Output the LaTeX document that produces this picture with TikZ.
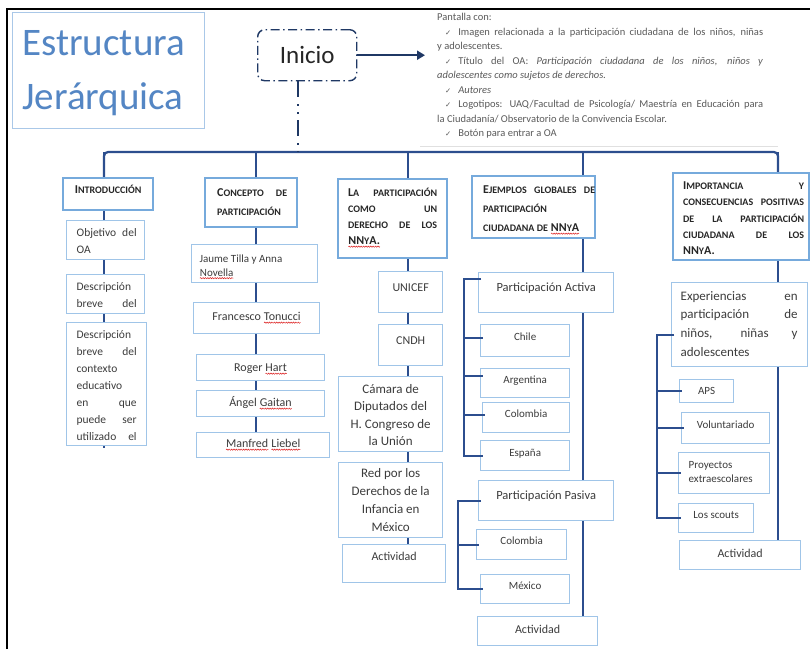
\documentclass[tikz,border=0pt]{standalone}
\usepackage{fontspec}
\setmainfont{Carlito}
\newfontfamily\symfont{DejaVu Sans}
\usetikzlibrary{arrows.meta,backgrounds,decorations.pathmorphing}

\definecolor{navy}{RGB}{44,78,142}
\definecolor{navydark}{RGB}{31,56,100}
\definecolor{hdrline}{RGB}{118,170,220}
\definecolor{boxline}{RGB}{160,197,232}
\definecolor{titleblue}{RGB}{84,134,196}
\definecolor{titlebox}{RGB}{170,200,232}
\definecolor{hdrtext}{RGB}{38,38,38}
\definecolor{bodytext}{RGB}{60,60,60}
\definecolor{notetext}{RGB}{90,90,90}
\definecolor{spellred}{RGB}{220,30,30}

% box: name, style, x1, y1, x2, y2, first baseline, alignment, text
\newcommand\bx[9]{%
  \node[#2, anchor=north west, inner sep=0pt] (#1) at (#3,#4)
    {\parbox[c][\dimexpr #6pt-#4pt\relax][t]{\dimexpr #5pt-#3pt\relax}{#8\rule{0pt}{#7pt}#9}};}
\newcommand\lft[3]{\leftskip=#1pt\rightskip=#2pt plus 1fil\baselineskip=#3pt\relax}
\newcommand\ctr[1]{\centering\baselineskip=#1pt\relax}
\newcommand\jl[1]{\makebox[\dimexpr\hsize-\leftskip-\rightskip\relax][s]{#1}}
\newcommand\hs[1]{{\fontsize{10}{10}\selectfont #1}}
\newcommand\ck{{\symfont\fontsize{7.3}{7.3}\selectfont ✓}}
\newcommand\spl[1]{\tikz[baseline=(sp.base)]{\node[inner sep=0pt,outer sep=0pt,draw=none,fill=none,anchor=base](sp){#1};\draw[spellred,line width=0.5pt,decorate,decoration={snake,amplitude=0.6pt,segment length=2.4pt}]([yshift=-2pt]sp.base west)--([yshift=-2pt]sp.base east);}}

\begin{document}
\begin{tikzpicture}[x=1pt,y=-1pt,
  sz/.style={font=\fontsize{#1}{#1}\selectfont},
  conn/.style={draw=navy, line width=2.2pt},
  hdr/.style={draw=hdrline, line width=2.3pt, fill=white, text=hdrtext, font=\fontsize{12}{12}\selectfont\bfseries},
  sub/.style={draw=boxline, line width=1.3pt, fill=white, text=bodytext, sz=11.5},
  notestyle/.style={text=notetext, sz=10.5},
  titlebx/.style={draw=titlebox, line width=0.9pt, text=titleblue, sz=39},
  startbox/.style={draw=navydark, line width=1.4pt, rounded corners=7pt, fill=white,
    dash pattern=on 9pt off 3.5pt on 1.5pt off 3.5pt, text=hdrtext, sz=25},
  dashdot/.style={draw=navydark, line width=1.6pt, dash pattern=on 16pt off 7pt on 2pt off 6pt on 2pt off 6pt},
  arrowline/.style={draw=navydark, line width=2.2pt, -{Triangle[length=8pt,width=9pt]}},
  frame/.style={draw=black, line width=2.2pt},
  faint/.style={draw=black!12, line width=0.8pt}]

\useasboundingbox (0,0) rectangle (810,649);
\begin{pgfonlayer}{background}
  \fill[white] (0,0) rectangle (810,649);
\end{pgfonlayer}

% outer frame
\draw[frame] (7,649) -- (7,9) -- (810,9);

% title and start screen
\bx{title}{titlebx}{12}{12}{204}{128}{43}{\lft{10}{0}{54}}{Estructura\\Jerárquica}
\bx{inicio}{startbox}{257}{29}{356}{80}{34}{\ctr{25}}{Inicio}
\bx{pantalla}{notestyle}{425}{10}{765}{142}{10.5}{\lft{12}{2}{14.5}}{Pantalla con:\\
\jl{\hspace*{8pt}\ck\hspace{7pt}Imagen relacionada a la participación ciudadana de los niños, niñas}\\
y adolescentes.\\
\jl{\hspace*{8pt}\ck\hspace{7pt}Título del OA: \textit{Participación ciudadana de los niños, niños y}}\\
\textit{adolescentes como sujetos de derechos.}\\
\hspace*{8pt}\ck\hspace{7pt}\textit{Autores}\\
\jl{\hspace*{8pt}\ck\hspace{7pt}Logotipos: UAQ/Facultad de Psicología/ Maestría en Educación para}\\
la Ciudadanía/ Observatorio de la Convivencia Escolar.\\
\hspace*{8pt}\ck\hspace{7pt}Botón para entrar a OA}
\draw[faint] (420,146) -- (778,146);

\coordinate (bus) at (298,152);
\coordinate (c1) at (104,152);
\coordinate (c2) at (256,152);
\coordinate (c3) at (408,152);
\coordinate (c4) at (583,152);
\coordinate (c5) at (778,152);

% column headers
\bx{h1}{hdr}{62}{177}{152}{209}{15.5}{\ctr{16}}{I\hs{NTRODUCCIÓN}}
\bx{h2}{hdr}{204}{177}{296}{226}{18.5}{\lft{12}{10}{19}}{\jl{C\hs{ONCEPTO} \hs{DE}}\\ \hs{PARTICIPACIÓN}}
\bx{h3}{hdr}{337}{178}{446}{257}{17.5}{\lft{10}{10}{16}}{\jl{L\hs{A} \hs{PARTICIPACIÓN}}\\ \jl{\hs{COMO} \hs{UN}}\\ \jl{\hs{DERECHO} \hs{DE} \hs{LOS}}\\ \spl{NN\hs{Y}A.}}
\bx{h4}{hdr}{471}{175}{594}{237}{17.5}{\lft{11}{0}{19}}{\jl{E\hs{JEMPLOS} \hs{GLOBALES} \hs{DE}}\\ \hs{PARTICIPACIÓN}\\ \hs{CIUDADANA DE} \spl{NN\hs{Y}A}}
\bx{h5}{hdr}{672}{172}{808}{259}{16.5}{\lft{10}{5}{16.3}}{\jl{I\hs{MPORTANCIA} \hs{Y}}\\ \jl{\hs{CONSECUENCIAS} \hs{POSITIVAS}}\\ \jl{\hs{DE} \hs{LA} \hs{PARTICIPACIÓN}}\\ \jl{\hs{CIUDADANA} \hs{DE} \hs{LOS}}\\ NN\hs{Y}A.}

% column 1
\bx{i1}{sub}{66}{220}{144}{259}{16}{\lft{10}{8}{17}}{\jl{Objetivo del}\\ OA}
\bx{i2}{sub}{66}{274}{144}{313}{16}{\lft{10}{8}{17}}{Descripción\\ \jl{breve del}}
\bx{i3}{sub}{66}{322}{146}{445}{16}{\lft{10}{10}{17}}{Descripción\\ \jl{breve del}\\ contexto\\ educativo\\ \jl{en que}\\ \jl{puede ser}\\ \jl{utilizado el}}

% column 2
\bx{j1}{sub,sz=11}{191}{244}{317}{282}{17.5}{\lft{8}{8}{14}}{Jaume Tilla y Anna\\ \spl{Novella}}
\bx{j2}{sub,sz=12}{193}{302}{319}{333}{18}{\ctr{14}}{Francesco \spl{Tonucci}}
\bx{j3}{sub,sz=12}{196}{354}{324}{380}{17}{\ctr{14}}{Roger \spl{Hart}}
\bx{j4}{sub,sz=12}{196}{390}{324}{416}{16}{\ctr{14}}{Ángel \spl{Gaitan}}
\bx{j5}{sub,sz=12}{196}{432}{329}{457}{15}{\ctr{14}}{\spl{Manfred} \spl{Liebel}}

% column 3
\bx{k1}{sub,sz=12}{378}{271}{442}{312}{20}{\ctr{14}}{UNICEF}
\bx{k2}{sub,sz=12}{378}{324}{442}{365}{20}{\ctr{14}}{CNDH}
\bx{k3}{sub,sz=13}{338}{376}{442}{451}{17}{\ctr{17.3}}{Cámara de\\ Diputados del\\ H. Congreso de\\ la Unión}
\bx{k4}{sub,sz=13}{338}{462}{442}{537}{15}{\ctr{18}}{Red por los\\ Derechos de la\\ Infancia en\\ México}
\bx{k5}{sub,sz=12}{342}{544}{445}{582}{16}{\ctr{14}}{Actividad}

% column 4
\bx{l0}{sub,sz=12.5}{478}{272}{613}{312}{19}{\ctr{14}}{Participación Activa}
\bx{l1}{sub,sz=11}{480}{324}{569}{356}{15.5}{\ctr{14}}{Chile}
\bx{l2}{sub,sz=11}{480}{368}{569}{397}{14.5}{\ctr{14}}{Argentina}
\bx{l3}{sub,sz=11}{482}{402}{569}{432}{14.5}{\ctr{14}}{Colombia}
\bx{l4}{sub,sz=11}{480}{440}{569}{470}{15.5}{\ctr{14}}{España}
\bx{l5}{sub,sz=12.5}{478}{480}{613}{520}{19}{\ctr{14}}{Participación Pasiva}
\bx{l6}{sub,sz=11}{476}{529}{566}{559}{14.5}{\ctr{14}}{Colombia}
\bx{l7}{sub,sz=11}{480}{574}{569}{603}{14.5}{\ctr{14}}{México}
\bx{l8}{sub,sz=12}{477}{616}{597}{645}{17}{\ctr{14}}{Actividad}

% column 5
\bx{m0}{sub,sz=13}{671}{282}{807}{366}{17.5}{\lft{9}{10}{18.7}}{\jl{Experiencias en}\\ \jl{participación de}\\ \jl{niños, niñas y}\\ adolescentes}
\bx{m1}{sub,sz=11}{679}{379}{733}{402}{14.5}{\ctr{14}}{APS}
\bx{m2}{sub,sz=11}{681}{412}{769}{443}{15.5}{\ctr{14}}{Voluntariado}
\bx{m3}{sub,sz=11}{678}{452}{769}{493}{15.5}{\lft{10}{0}{14}}{Proyectos\\ extraescolares}
\bx{m4}{sub,sz=11}{678}{503}{753}{532}{14.5}{\ctr{14}}{Los scouts}
\bx{m5}{sub,sz=12}{679}{540}{800}{569}{17}{\ctr{14}}{Actividad}

% start screen links
\draw[arrowline] (inicio.east) -- (inicio.east -| pantalla.west);
\draw[dashdot] (inicio.south -| bus) -- (bus);

% hierarchy bus and column spines
\begin{pgfonlayer}{background}
  \draw[conn, rounded corners=4pt] (c1 |- h1.north) -- (c1) -- (c5) -- (c5 |- h5.north);
  \draw[conn] (c1) -- ([yshift=-2pt]c1 |- i3.south);
  \foreach \c/\n in {c2/j5, c3/k5, c4/l8, c5/m5}
    \draw[conn] (\c) -- (\c |- \n.north);
\end{pgfonlayer}

% side brackets
\coordinate (ta) at ([shift={(3pt,-7pt)}]l0.north west);
\coordinate (ba) at ([shift={(-14pt,-7pt)}]l0.north west);
\draw[conn] (ta) -- (ba) |- ([xshift=3pt]l4.west);
\foreach \n/\dy in {l1/3pt, l2/7pt, l3/3pt}
  \draw[conn] ([yshift=\dy]ba |- \n.west) -- ([shift={(3pt,\dy)}]\n.west);

\coordinate (bb) at ([xshift=-20pt]l5.west);
\draw[conn] ([xshift=3pt]l5.west) -- (bb) |- ([xshift=3pt]l7.west);
\draw[conn] (bb |- l6.west) -- ([xshift=3pt]l6.west);

\coordinate (bc) at ([shift={(-14pt,-10pt)}]m0.west);
\draw[conn] ([shift={(3pt,-10pt)}]m0.west) -- (bc) |- ([xshift=3pt]m4.west);
\foreach \n in {m1, m2, m3}
  \draw[conn] (bc |- \n.west) -- ([xshift=3pt]\n.west);
\end{tikzpicture}
\end{document}
